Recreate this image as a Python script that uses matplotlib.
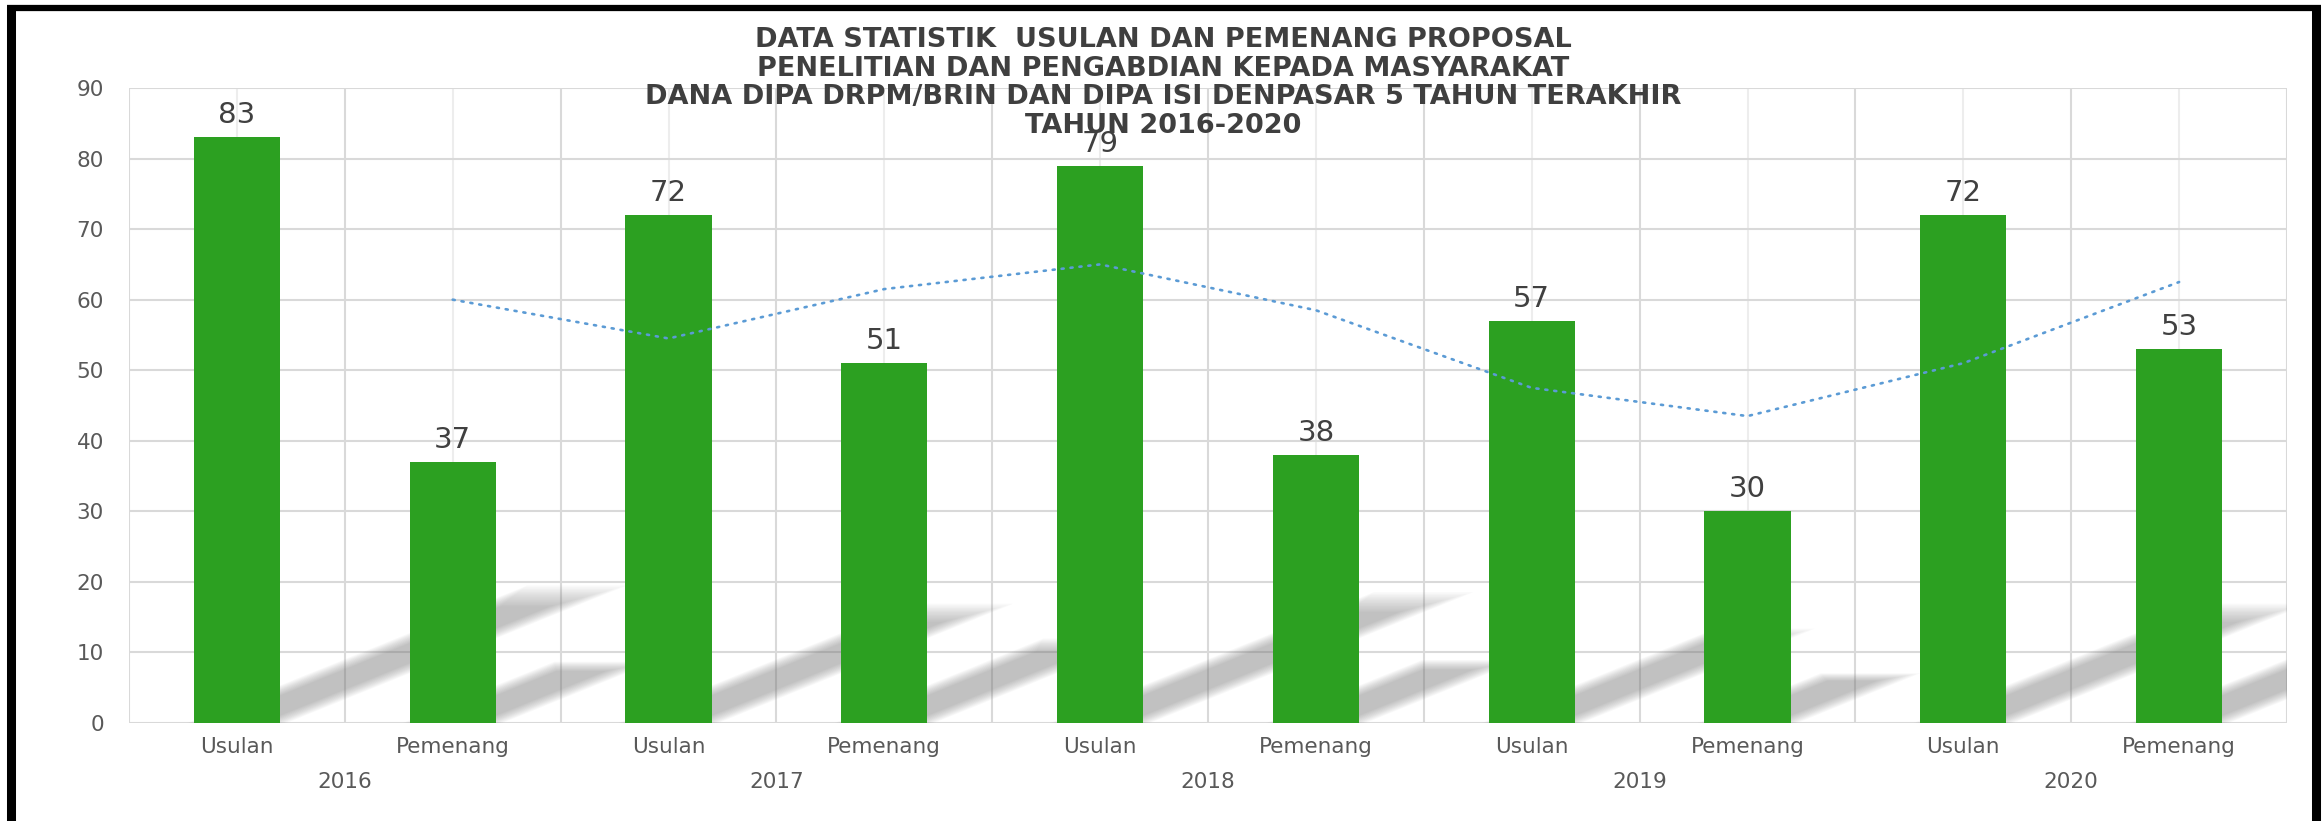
import matplotlib
matplotlib.use("Agg")
import matplotlib.pyplot as plt
from matplotlib.patches import Polygon
from matplotlib.lines import Line2D
import numpy as np

# ---------------- data ----------------
years = ["2016", "2017", "2018", "2019", "2020"]
categories = ["Usulan", "Pemenang"] * 5
values = [83, 37, 72, 51, 79, 38, 57, 30, 72, 53]
# 2-period moving average trendline (starts at 2nd bar)
trend_values = [60, 54.5, 61.5, 65, 58.5, 47.5, 43.5, 51, 62.5]
y_ticks = [0, 10, 20, 30, 40, 50, 60, 70, 80, 90]
title_lines = [
    "DATA STATISTIK  USULAN DAN PEMENANG PROPOSAL",
    "PENELITIAN DAN PENGABDIAN KEPADA MASYARAKAT",
    "DANA DIPA DRPM/BRIN DAN DIPA ISI DENPASAR 5 TAHUN TERAKHIR",
    "TAHUN 2016-2020",
]

# ---------------- layout ----------------
W, H = 2324, 821
fig = plt.figure(figsize=(W / 100, H / 100), dpi=100)
plt.rcParams["font.family"] = ["DejaVu Sans"]

def fy(py):
    return 1 - py / H

def fx(px):
    return px / W

ax_left, ax_right, ax_top, ax_bottom = 129, 2287, 88, 723
ax = fig.add_axes([fx(ax_left), fy(ax_bottom), (ax_right - ax_left) / W, (ax_bottom - ax_top) / H])

n = len(values)
x = np.arange(n)
ax.set_xlim(-0.5, n - 0.5)
ax.set_ylim(0, 90)

major_grid = "#d9d9d9"
minor_grid = "#ededed"
lw_grid = 1.5

for yv in y_ticks:
    ax.axhline(yv, color=major_grid, lw=lw_grid, zorder=1)
for b in np.arange(-0.5, n, 1.0):
    ax.axvline(b, color=major_grid, lw=lw_grid, zorder=1)
for c in x:
    ax.axvline(c, color=minor_grid, lw=lw_grid, zorder=0.9)

for s in ax.spines.values():
    s.set_visible(False)

bar_w = 0.4
green = "#2ca021"

# soft diagonal shadows
kx, ky = 0.0186, 0.23
nl = 14
for i, h in enumerate(values):
    L, R = i - bar_w / 2, i + bar_w / 2
    dx, dy = kx * h, ky * h
    for k in range(nl):
        e = 0.009 * k - 0.03
        t = 1.02 - 0.012 * k
        poly = Polygon(
            [(L + e, 0), (R - e, 0), (R - e + dx * t, dy * t), (L + e + dx * t, dy * t)],
            closed=True, facecolor="#7a7a7a", edgecolor="none", alpha=0.038, zorder=2,
        )
        ax.add_patch(poly)

ax.bar(x, values, width=bar_w, color=green, zorder=3)

for xi, v in zip(x, values):
    ax.annotate(str(v), (xi, v), xytext=(0, 14), textcoords="offset pixels",
                ha="center", va="baseline", fontsize=21, color="#404040", zorder=5)

# trendline
ax.plot(x[1:], trend_values, color="#5b9bd5", lw=1.9, linestyle=(0, (0.8, 2.6)),
        dash_capstyle="round", zorder=4)

# y ticks
ax.set_yticks(y_ticks)
ax.set_yticklabels([str(t) for t in y_ticks], fontsize=15.5, color="#595959")
ax.tick_params(axis="y", length=0, pad=18)
ax.set_xticks([])

# category labels
tr = matplotlib.transforms.blended_transform_factory(ax.transData, fig.transFigure)
for xi, c in zip(x, categories):
    ax.text(xi, fy(753), c, transform=tr, ha="center", va="baseline",
            fontsize=15.5, color="#595959")
for gi, yr in enumerate(years):
    ax.text(2 * gi + 0.5, fy(788), yr, transform=tr, ha="center", va="baseline",
            fontsize=15.5, color="#595959")

# title
baselines = [47, 76, 104, 133]
for line, b in zip(title_lines, baselines):
    fig.text(fx(1163), fy(b), line, ha="center", va="baseline", fontsize=19.5,
             fontweight="bold", color="#3f3f3f")

# black frame (left, top, right)
frame_kw = dict(color="black", solid_joinstyle="miter", solid_capstyle="butt",
                transform=fig.transFigure)
fig.add_artist(Line2D([fx(11), fx(11)], [fy(H + 5), fy(6)], lw=6.5, **frame_kw))
fig.add_artist(Line2D([fx(7), fx(2321)], [fy(8.5), fy(8.5)], lw=4.5, **frame_kw))
fig.add_artist(Line2D([fx(2316), fx(2316)], [fy(6), fy(H + 5)], lw=6.5, **frame_kw))

fig.savefig("out.png", dpi=100, facecolor="white")
